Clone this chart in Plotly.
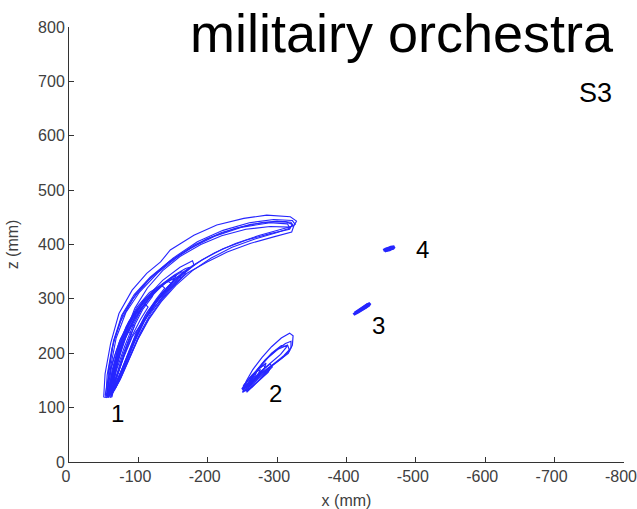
import plotly.graph_objects as go

# ---------------- data (mm) ----------------
# Cluster 1: large crescent-shaped loops (hand traced)
c1_loops = [
    [(-50,119),(-52,162),(-60,218),(-72,273),(-91,316),(-112,347),(-132,368),(-146,390),(-180,417),(-213,436),(-252,448),(-285,454),(-319,451),(-328,443),(-324,434),(-321,423),(-295,414),(-261,402),(-228,386),(-199,368),(-170,347),(-146,319),(-127,291),(-108,261),(-91,230),(-79,193),(-67,150),(-62,120),(-50,119)],
    [(-55,122),(-57,170),(-65,225),(-78,272),(-97,310),(-120,342),(-150,375),(-185,405),(-222,426),(-260,440),(-295,446),(-322,444),(-326,437),(-318,432),(-290,433),(-255,428),(-220,416),(-190,400),(-160,378),(-135,352),(-113,320),(-95,283),(-82,240),(-72,195),(-64,155),(-58,128),(-55,122)],
    [(-58,125),(-60,175),(-68,228),(-82,275),(-102,313),(-128,348),(-160,381),(-198,410),(-240,430),(-280,441),(-312,442),(-322,437),(-318,428),(-290,420),(-255,408),(-222,392),(-192,372),(-164,347),(-140,318),(-120,286),(-104,250),(-90,210),(-78,170),(-68,138),(-60,126),(-58,125)],
    [(-53,118),(-55,160),(-62,210),(-74,258),(-92,300),(-115,335),(-142,365),(-175,393),(-210,415),(-250,432),(-290,440),(-315,438),(-318,430),(-300,422),(-268,410),(-235,395),(-205,375),(-178,352),(-154,325),(-133,295),(-115,262),(-99,225),(-85,185),(-73,150),(-63,128),(-53,118)],
    [(-56,121),(-58,168),(-64,222),(-76,270),(-94,308),(-117,340),(-146,370),(-182,400),(-220,422),(-262,437),(-300,443),(-320,441),(-323,434),(-305,428),(-275,417),(-240,402),(-210,385),(-182,364),(-158,338),(-137,308),(-118,274),(-102,236),(-88,196),(-76,160),(-65,133),(-56,121)],
    [(-60,122),(-64,170),(-74,218),(-90,262),(-110,297),(-132,325),(-152,344),(-168,356),(-174,358),(-168,350),(-152,335),(-135,312),(-118,282),(-102,245),(-88,205),(-76,168),(-67,140),(-60,122)],
    [(-62,125),(-68,180),(-80,230),(-97,272),(-118,306),(-140,330),(-158,342),(-162,338),(-150,322),(-132,296),(-115,264),(-100,228),(-87,190),(-75,155),(-66,133),(-62,125)],
    [(-57,120),(-62,168),(-72,215),(-87,258),(-106,295),(-126,320),(-143,332),(-148,328),(-138,312),(-122,288),(-107,255),(-93,218),(-81,180),(-70,148),(-62,128),(-57,120)],
    [(-60,118),(-63,160),(-70,205),(-82,248),(-98,285),(-116,312),(-133,325),(-138,320),(-126,300),(-110,270),(-97,238),(-86,203),(-76,170),(-67,140),(-60,118)],
    [(-63,130),(-70,185),(-84,236),(-103,280),(-125,315),(-146,338),(-155,345),(-150,332),(-132,305),(-114,272),(-98,235),(-85,195),(-74,160),(-66,138),(-63,130)],
    [(-55,120),(-60,150),(-68,185),(-78,220),(-90,250),(-95,252),(-86,225),(-77,195),(-69,162),(-62,135),(-55,120)],
    [(-58,125),(-62,155),(-70,195),(-82,235),(-96,268),(-110,290),(-114,285),(-103,262),(-90,230),(-79,195),(-70,160),(-62,132),(-58,125)],
    [(-52,122),(-56,150),(-63,185),(-73,222),(-86,258),(-100,285),(-104,280),(-92,250),(-80,212),(-70,175),(-62,145),(-56,128),(-52,122)],
    [(-62,128),(-66,175),(-76,222),(-92,266),(-112,303),(-135,334),(-160,358),(-178,370),(-180,363),(-163,348),(-142,322),(-123,292),(-106,256),(-92,218),(-80,180),(-70,148),(-62,128)],
    [(-54,121),(-57,145),(-61,172),(-67,200),(-74,226),(-80,240),(-82,232),(-76,208),(-70,180),(-64,152),(-58,130),(-54,121)],
    [(-59,124),(-64,165),(-73,210),(-86,250),(-102,284),(-120,310),(-138,330),(-152,338),(-146,326),(-130,304),(-113,276),(-99,242),(-87,205),(-76,170),(-66,142),(-59,124)],
    [(-56,118),(-61,158),(-69,200),(-80,240),(-94,274),(-110,300),(-124,316),(-120,304),(-106,280),(-94,250),(-84,215),(-75,180),(-67,150),(-60,128),(-56,118)],
    [(-61,126),(-67,172),(-78,220),(-94,262),(-114,298),(-137,328),(-162,350),(-168,346),(-146,322),(-126,294),(-109,260),(-95,222),(-83,184),(-72,152),(-64,134),(-61,126)],
    [(-57,119),(-60,140),(-64,165),(-70,192),(-77,218),(-86,240),(-90,236),(-83,212),(-76,186),(-70,160),(-64,138),(-57,119)],
]

# Cluster 2: smaller loops
c2_loops = [
    [(-250,132),(-256,150),(-265,170),(-278,192),(-292,212),(-306,228),(-318,237),(-323,232),(-322,215),(-316,200),(-302,186),(-286,172),(-272,158),(-260,143),(-250,132)],
    [(-253,130),(-260,148),(-270,168),(-283,188),(-298,205),(-312,218),(-320,222),(-320,210),(-310,196),(-295,180),(-280,164),(-266,150),(-257,138),(-253,130)],
    [(-255,135),(-262,152),(-273,172),(-287,192),(-302,208),(-315,215),(-318,205),(-308,192),(-292,176),(-277,160),(-264,146),(-255,135)],
    [(-258,140),(-266,158),(-278,180),(-292,200),(-306,214),(-314,212),(-305,198),(-290,182),(-275,165),(-264,150),(-258,140)],
    [(-250,128),(-256,142),(-264,158),(-272,170),(-280,178),(-283,174),(-275,162),(-266,148),(-258,135),(-250,128)],
    [(-252,138),(-259,152),(-268,165),(-278,176),(-284,182),(-281,170),(-272,158),(-262,144),(-252,138)],
    [(-255,130),(-262,143),(-271,158),(-280,170),(-290,180),(-293,175),(-284,163),(-274,150),(-264,138),(-255,130)],
    [(-249,134),(-255,146),(-262,156),(-270,166),(-276,170),(-272,160),(-265,150),(-257,140),(-249,134)],
    [(-251,140),(-257,150),(-264,160),(-271,168),(-268,158),(-261,148),(-254,141),(-251,140)],
    [(-256,128),(-263,140),(-272,152),(-282,164),(-290,172),(-287,165),(-278,155),(-268,143),(-259,132),(-256,128)],
]

# Cluster 3 and 4: short compact strokes
c3_loops = [
    [(-410,271),(-416,277),(-423,283),(-430,289),(-434,292),(-432,288),(-425,282),(-417,276),(-411,272)],
    [(-412,274),(-418,279),(-425,285),(-431,290),(-428,285),(-421,280),(-414,275)],
]
c4_loops = [
    [(-453,389),(-458,392),(-464,395),(-469,396),(-467,393),(-461,391),(-455,388)],
    [(-455,391),(-460,393),(-466,394),(-462,390),(-456,389)],
]

label_text = ["1", "2", "3", "4"]
label_x = [-70, -298, -446, -510]
label_y = [90, 126, 251, 390]

x_ticks = [0, -100, -200, -300, -400, -500, -600, -700, -800]
y_ticks = [0, 100, 200, 300, 400, 500, 600, 700, 800]

# ---------------- figure ----------------
FONT = "Liberation Sans, Arial, Helvetica, sans-serif"
BLUE = "#0000ff"

def flatten(loops):
    xs, ys = [], []
    for lp in loops:
        for (a, b) in lp:
            xs.append(a); ys.append(b)
        xs.append(None); ys.append(None)
    return xs, ys

fig = go.Figure()
for loops, w in [(c1_loops, 1.1), (c2_loops, 1.2), (c3_loops, 3), (c4_loops, 3)]:
    xs, ys = flatten(loops)
    fig.add_trace(go.Scatter(x=xs, y=ys, mode="lines",
                             line=dict(color=BLUE, width=w),
                             opacity=0.85, hoverinfo="skip", showlegend=False))

for t, x, y in zip(label_text, label_x, label_y):
    fig.add_annotation(x=x, y=y, xref="x", yref="y", text=t, showarrow=False,
                       font=dict(family=FONT, size=24, color="black"),
                       xanchor="center", yanchor="middle")

fig.add_annotation(x=0.600, y=0.9867, xref="paper", yref="paper",
                   text="militairy orchestra", showarrow=False,
                   font=dict(family=FONT, size=54, color="black"),
                   xanchor="center", yanchor="middle")
fig.add_annotation(x=0.9487, y=0.849, xref="paper", yref="paper",
                   text="S3", showarrow=False,
                   font=dict(family=FONT, size=27, color="black"),
                   xanchor="center", yanchor="middle")

axis_common = dict(showgrid=False, zeroline=False, showline=True,
                   linecolor="#333333", linewidth=1, mirror=False,
                   ticks="inside", ticklen=5, tickcolor="#333333",
                   automargin=False, ticklabeloverflow="allow",
                   tickfont=dict(family=FONT, size=16, color="#404040"),
                   title_font=dict(family=FONT, size=16, color="#404040"))

fig.update_xaxes(range=[0, -800], tickvals=x_ticks,
                 ticktext=[str(v) for v in x_ticks],
                 ticklabelshift=3,
                 title_text="x (mm)", **axis_common)
fig.update_yaxes(range=[0, 800], tickvals=y_ticks,
                 ticktext=[str(v) for v in y_ticks],
                 title_text="z (mm)", **axis_common)

fig.update_layout(width=637, height=509,
                  margin=dict(l=69, r=13, t=27, b=47),
                  plot_bgcolor="white", paper_bgcolor="white",
                  font=dict(family=FONT))

# remove the page's default body margin so the figure fills the window exactly
fig.write_html("out.html",
               config={"displayModeBar": False, "staticPlot": True},
               post_script="document.body.style.margin='0';document.body.style.overflow='hidden';")
